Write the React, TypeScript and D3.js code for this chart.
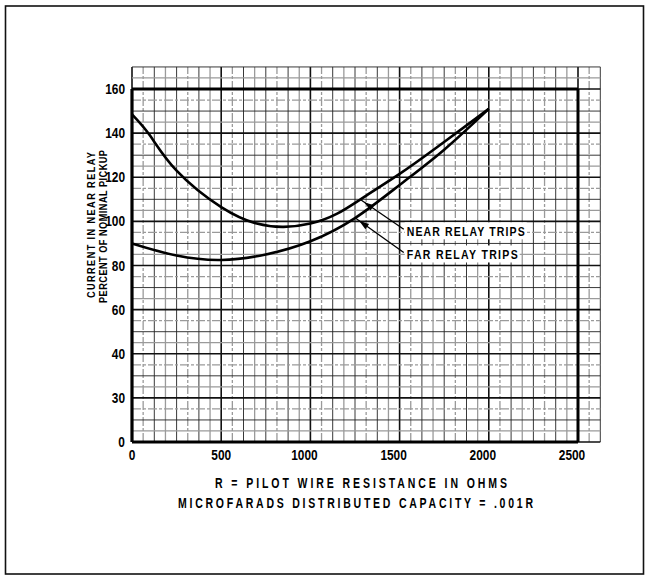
import React from "react";
import * as d3 from "d3";

const xTicks = [0, 500, 1000, 1500, 2000, 2500];
const xTickLabels = ["0", "500", "1000", "1500", "2000", "2500"];
const yTicks = [0, 20, 40, 60, 80, 100, 120, 140, 160];
const yTickLabels = ["0", "30", "40", "60", "80", "100", "120", "140", "160"];

const nearR = [0, 100, 250, 500, 700, 850, 1000, 1150, 1300, 1500, 1700, 1900, 2000];
const nearI = [148.5, 139, 123, 106.5, 99, 97.5, 99, 103.5, 111, 121.5, 133, 145, 151];
const farR = [0, 250, 500, 750, 1000, 1250, 1500, 1750, 2000];
const farI = [90, 84.5, 82.5, 85, 91, 101.5, 116.5, 132.5, 151];

const annLabels = ["NEAR RELAY TRIPS", "FAR RELAY TRIPS"];
const annAnchorR = [1278, 1250];
const annAnchorI = [110, 101.6];
const annTextR = [1540, 1540];
const annTextI = [95.5, 85];
const annWidths = [118, 111];

const xTitle1 = "R = PILOT WIRE RESISTANCE IN OHMS";
const xTitle2 = "MICROFARADS DISTRIBUTED CAPACITY = .001R";
const yTitle1 = "CURRENT IN NEAR RELAY";
const yTitle2 = "PERCENT OF NOMINAL PICKUP";

const FONT = "'Liberation Sans', Arial, 'DejaVu Sans', sans-serif";

type CTProps = {
  x: number;
  y: number;
  size: number;
  sx: number;
  width?: number;
  anchor?: "start" | "middle" | "end";
  rotate?: number;
  children: string;
};

function CText({ x, y, size, sx, width, anchor = "start", rotate = 0, children }: CTProps) {
  return (
    <g transform={`translate(${x},${y}) rotate(${rotate}) scale(${sx},1)`}>
      <text
        x={0}
        y={0}
        fontSize={size}
        fontWeight="bold"
        textAnchor={anchor}
        textLength={width ? width / sx : undefined}
        lengthAdjust={width ? "spacing" : undefined}
        fill="#000"
      >
        {children}
      </text>
    </g>
  );
}

export default function App() {
  const x = d3.scaleLinear().domain([0, 2500]).range([132, 578]);
  const y = d3.scaleLinear().domain([0, 160]).range([442, 89]);

  const gridX = d3.range(0, 2625 + 1, 62.5);
  const gridY = d3.range(0, 170 + 0.01, 5);

  const line = d3
    .line<[number, number]>()
    .x((d) => x(d[0]))
    .y((d) => y(d[1]))
    .curve(d3.curveNatural);

  const near: [number, number][] = nearR.map((r, i) => [r, nearI[i]]);
  const far: [number, number][] = farR.map((r, i) => [r, farI[i]]);

  return (
    <svg
      width={648}
      height={577}
      style={{ position: "absolute", left: 0, top: 0, background: "#fff", display: "block" }}
      fontFamily={FONT}
    >
      <rect x={0} y={0} width={648} height={577} fill="#fff" />
      {/* outer frame */}
      <rect x={5.5} y={6} width={638} height={568} fill="none" stroke="#111" strokeWidth={1.6} />

      {/* grid */}
      <g>
        {gridX.map((v, i) => {
          const major = Math.abs(v / 500 - Math.round(v / 500)) < 1e-6;
          const dark = i % 2 === 0;
          return (
            <line
              key={"gx" + i}
              x1={x(v)}
              x2={x(v)}
              y1={y(0)}
              y2={y(170)}
              stroke={major ? "#111" : dark ? "#222" : "#9a9a9a"}
              strokeWidth={major ? 1.6 : dark ? 0.9 : 1.3}
              strokeDasharray={!major && i % 4 === 1 ? "9 2 3 2" : undefined}
            />
          );
        })}
        {gridY.map((v, i) => {
          const major = Math.abs(v / 20 - Math.round(v / 20)) < 1e-6;
          const dark = i % 2 === 0;
          return (
            <line
              key={"gy" + i}
              x1={x(0)}
              x2={x(2625)}
              y1={y(v)}
              y2={y(v)}
              stroke={major ? "#111" : dark ? "#222" : "#9a9a9a"}
              strokeWidth={major ? 1.6 : dark ? 0.9 : 1.3}
              strokeDasharray={!major && i % 4 === 3 ? "9 2 3 2" : undefined}
            />
          );
        })}
      </g>

      {/* heavy frame of the plot */}
      <line x1={x(0)} x2={x(0)} y1={y(0)} y2={y(160)} stroke="#000" strokeWidth={3.2} />
      <line x1={x(2500)} x2={x(2500)} y1={y(0)} y2={y(160)} stroke="#000" strokeWidth={3} />
      <line x1={x(0)} x2={x(2500)} y1={y(160)} y2={y(160)} stroke="#000" strokeWidth={3.2} />
      <line x1={x(0)} x2={x(2500)} y1={y(0)} y2={y(0)} stroke="#000" strokeWidth={3} />

      {/* annotations */}
      {annLabels.map((lab, i) => {
        const ax = x(annAnchorR[i]);
        const ay = y(annAnchorI[i]);
        const tx = x(annTextR[i]) - 3;
        const ty = y(annTextI[i]) - 2;
        const ang = Math.atan2(ty - ay, tx - ax);
        const hx = ax + Math.cos(ang) * 15;
        const hy = ay + Math.sin(ang) * 15;
        const bx = ax + Math.cos(ang) * 5;
        const by = ay + Math.sin(ang) * 5;
        const px = -Math.sin(ang) * 3.2;
        const py = Math.cos(ang) * 3.2;
        return (
          <g key={"ann" + i}>
            <rect
              x={x(annTextR[i]) - 2}
              y={y(annTextI[i]) - 9}
              width={annWidths[i] + 4}
              height={17}
              fill="#fff"
            />
            <line x1={ax} y1={ay} x2={tx} y2={ty} stroke="#000" strokeWidth={1.3} />
            <path
              d={`M${bx},${by} L${hx + px},${hy + py} L${hx - px},${hy - py} Z`}
              fill="#000"
            />
            <CText x={x(annTextR[i])} y={y(annTextI[i]) + 5} size={13.5} sx={0.78} width={annWidths[i]}>
              {lab}
            </CText>
          </g>
        );
      })}

      {/* curves */}
      <path d={line(near) || ""} fill="none" stroke="#000" strokeWidth={2.6} />
      <path d={line(far) || ""} fill="none" stroke="#000" strokeWidth={2.6} />

      {/* y tick labels */}
      {yTicks.map((v, i) => (
        <CText key={"yt" + i} x={x(0) - 7} y={y(v) + 5} size={14} sx={0.85} anchor="end">
          {yTickLabels[i]}
        </CText>
      ))}

      {/* x tick labels */}
      {xTicks.map((v, i) => (
        <CText
          key={"xt" + i}
          x={x(v) - (xTickLabels[i].length > 3 ? 6 : 0)}
          y={y(0) + 18}
          size={14}
          sx={0.85}
          anchor="middle"
        >
          {xTickLabels[i]}
        </CText>
      ))}

      {/* x titles */}
      <CText x={215} y={488} size={14} sx={0.75} width={292}>
        {xTitle1}
      </CText>
      <CText x={178} y={508} size={14} sx={0.75} width={355}>
        {xTitle2}
      </CText>

      {/* y titles */}
      <CText x={95} y={298} size={11.5} sx={0.8} width={146} rotate={-90}>
        {yTitle1}
      </CText>
      <CText x={107} y={303} size={11.5} sx={0.8} width={153} rotate={-90}>
        {yTitle2}
      </CText>
    </svg>
  );
}
